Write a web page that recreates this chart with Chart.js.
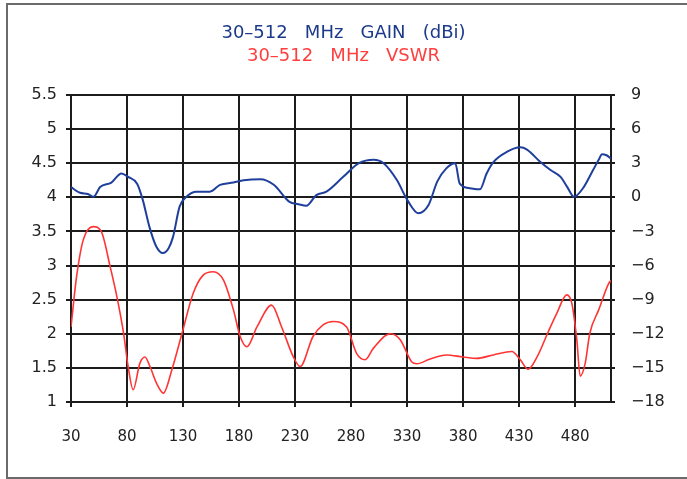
<!DOCTYPE html>
<html>
<head>
<meta charset="utf-8">
<script src="https://cdn.jsdelivr.net/npm/chart.js@4/dist/chart.umd.min.js"></script>
<style>
  html, body { margin: 0; padding: 0; background: #fff; }
  #wrap { position: relative; width: 687px; height: 479px; overflow: hidden; }
  #frame { position: absolute; left: 6px; top: 3px; width: 700px; height: 472px; border: 2px solid #6b6b6b; }
  #chartCanvas { position: absolute; left: 0; top: 0; }
</style>
</head>
<body>
<div id="wrap">
  <div id="frame"></div>
  <canvas id="chartCanvas" width="687" height="479"></canvas>
</div>
<script>
const xTicks = [30, 80, 130, 180, 230, 280, 330, 380, 430, 480];

// gain (dBi), jobb tengely
const gainFreq = [30, 38, 45, 50, 56, 66, 75, 81, 89, 94, 100, 106, 112, 117, 121, 127, 133, 142, 154, 163,
  175, 184, 199, 211, 225, 233, 240, 249, 258, 273, 287, 300, 309, 321, 330, 340, 349, 357, 365, 373,
  377, 386, 395, 401, 407, 419, 431, 437, 449, 458, 467, 473, 479, 487, 496, 501, 504, 508, 512];
const gainVals = [0.9, 0.4, 0.3, 0.05, 0.9, 1.3, 2.1, 1.8, 1.2, -0.2, -2.6, -4.3, -4.9, -4.5, -3.5, -0.8, 0.05, 0.5, 0.5, 1.1,
  1.3, 1.5, 1.6, 1.1, -0.4, -0.6, -0.75, 0.2, 0.5, 1.8, 3.0, 3.3, 3.0, 1.5, -0.2, -1.4, -0.7, 1.4, 2.55, 3.0,
  1.2, 0.8, 0.7, 2.1, 3.1, 4.0, 4.4, 4.2, 3.1, 2.4, 1.8, 0.9, 0.05, 0.8, 2.4, 3.3, 3.8, 3.7, 3.4];

// VSWR, bal tengely
const vswrFreq = [30, 35, 41, 50, 57, 65, 71, 77, 81, 85.5, 91.5, 96, 100.5, 106.5, 112.5, 120, 129, 139, 148, 157,
  166, 175, 181, 187, 196, 209, 218, 228.5, 234.5, 246, 255, 264, 276, 285, 292.5, 300, 315, 324, 334, 338.6,
  350.5, 365, 380, 392, 407, 423.5, 431, 438, 446, 456, 463.6, 472.5, 477, 481.5, 484.5, 489, 493, 501, 510, 512];
const vswrVals = [2.1, 2.84, 3.38, 3.57, 3.5, 2.98, 2.54, 2.0, 1.52, 1.18, 1.57, 1.66, 1.52, 1.27, 1.13, 1.47, 2.0, 2.59, 2.86, 2.91,
  2.79, 2.35, 1.96, 1.81, 2.1, 2.42, 2.1, 1.66, 1.52, 1.96, 2.13, 2.18, 2.1, 1.71, 1.62, 1.79, 2.0, 1.91, 1.59, 1.56,
  1.63, 1.69, 1.66, 1.64, 1.69, 1.74, 1.62, 1.48, 1.66, 2.03, 2.3, 2.57, 2.45, 1.91, 1.38, 1.57, 2.0, 2.35, 2.74, 2.78];

const ctx = document.getElementById('chartCanvas').getContext('2d');
const gridColor = '#1c1c1c';
const tickFont = { family: 'DejaVu Sans', size: 16 };

new Chart(ctx, {
  type: 'line',
  data: {
    datasets: [{
      label: 'GAIN',
      data: gainFreq.map((f, i) => ({ x: f, y: gainVals[i] })),
      yAxisID: 'yGain',
      borderColor: '#1f3f9c',
      borderWidth: 2,
      pointRadius: 0,
      cubicInterpolationMode: 'monotone'
    }, {
      label: 'VSWR',
      data: vswrFreq.map((f, i) => ({ x: f, y: vswrVals[i] })),
      yAxisID: 'y',
      borderColor: '#ff3434',
      borderWidth: 1.6,
      pointRadius: 0,
      cubicInterpolationMode: 'monotone'
    }]
  },
  options: {
    responsive: false,
    animation: false,
    layout: { padding: 0 },
    plugins: {
      legend: { display: false },
      tooltip: { enabled: false },
      title: {
        display: true,
        text: '30\u2013512   MHz   GAIN   (dBi)',
        color: '#1b3a8a',
        font: { family: 'DejaVu Sans', size: 18, weight: 'normal' },
        padding: { top: 23, bottom: 0 }
      },
      subtitle: {
        display: true,
        text: '30\u2013512   MHz   VSWR',
        color: '#ff3e3e',
        font: { family: 'DejaVu Sans', size: 18, weight: 'normal' },
        padding: { top: 1, bottom: 27.8 }
      }
    },
    scales: {
      x: {
        type: 'linear',
        min: 30,
        max: 512,
        afterBuildTicks: s => { s.ticks = xTicks.map(v => ({ value: v })); },
        afterFit: s => { s.height = 77; },
        grid: { color: gridColor, lineWidth: 2, tickLength: 5 },
        border: { color: gridColor, width: 2 },
        ticks: { color: '#222', font: { family: 'DejaVu Sans', size: 15 }, padding: 21, maxRotation: 0 }
      },
      y: {
        position: 'left',
        min: 1,
        max: 5.5,
        afterFit: s => { s.width = 71; },
        grid: { color: gridColor, lineWidth: 2, tickLength: 5 },
        border: { color: gridColor, width: 2 },
        ticks: { stepSize: 0.5, color: '#222', font: tickFont, padding: 9, callback: v => String(v) }
      },
      yGain: {
        position: 'right',
        min: -18,
        max: 9,
        afterFit: s => { s.width = 76; },
        grid: { drawOnChartArea: false, color: gridColor, lineWidth: 2, tickLength: 4 },
        border: { color: gridColor, width: 2 },
        ticks: {
          stepSize: 3,
          color: '#222',
          font: tickFont,
          padding: 16,
          callback: v => String(v).replace('-', '\u2212')
        }
      }
    }
  }
});
</script>
</body>
</html>
